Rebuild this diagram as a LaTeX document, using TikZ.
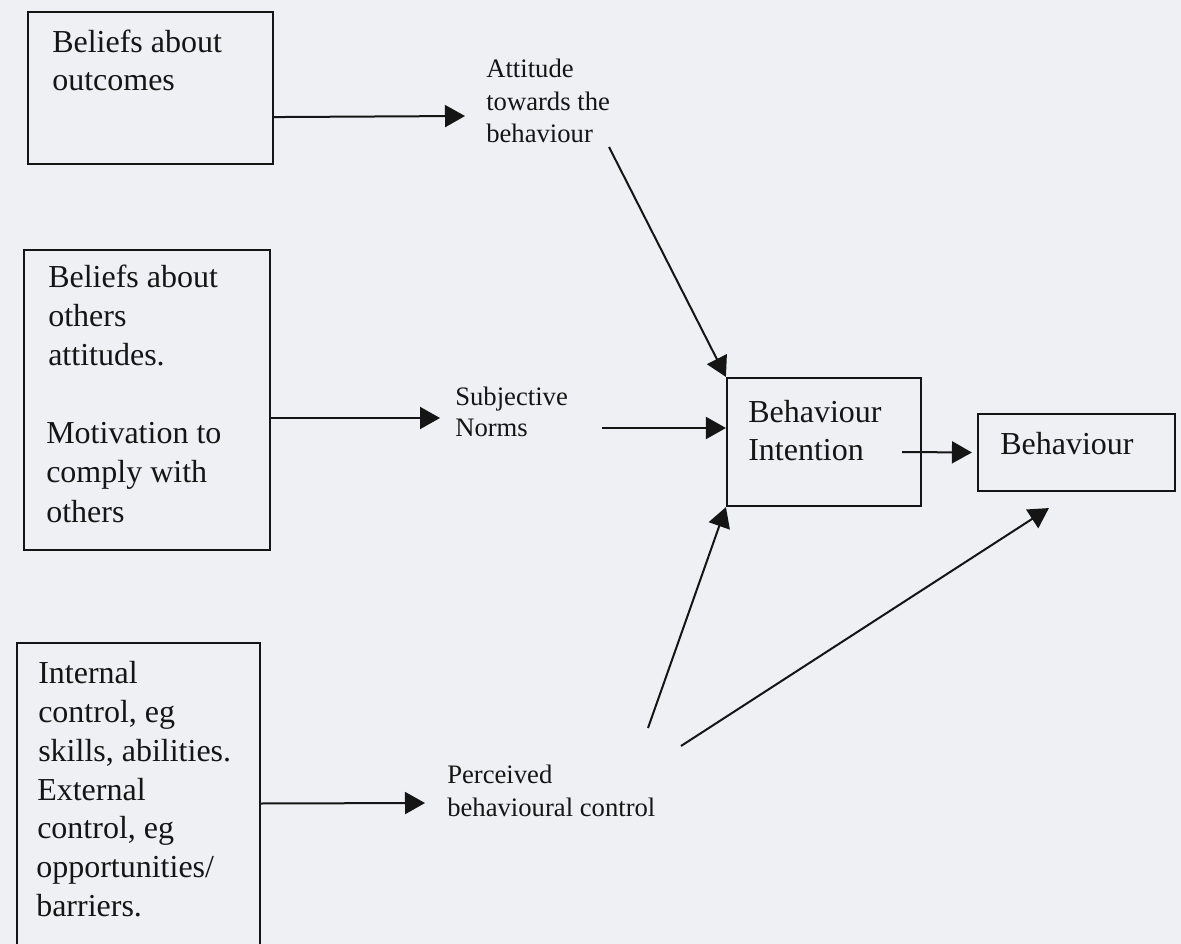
\documentclass[tikz,border=0pt]{standalone}
\usepackage{fontspec}
\setmainfont{Liberation Serif}
\usetikzlibrary{arrows.meta,fit,calc}
\definecolor{paper}{HTML}{EFF0F3}
\definecolor{ink}{HTML}{151515}

\begin{document}
\begin{tikzpicture}[x=0.75pt,y=-0.75pt,
  box/.style={draw=ink, line width=1.6pt, inner sep=0pt},
  big/.style={text=ink, font=\fontsize{24}{29}\selectfont, inner sep=0pt, anchor=base west},
  lab/.style={text=ink, font=\fontsize{20}{24}\selectfont, inner sep=0pt, anchor=base west},
  arr/.style={draw=ink, line width=1.5pt, -{Triangle[length=15pt,width=16.5pt]}}]

\fill[paper] (0,0) rectangle (1181,944);
\useasboundingbox (0,0) rectangle (1181,944);

% ---- left column: belief boxes ----
\node[box, fit={(28,12) (273,164)}] (b1) {};
\node[big] (b1a) at (52,53) {Beliefs about};
\node[big] (b1b) at (52,91) {outcomes};

\node[box, fit={(24,250) (270,550)}] (b2) {};
\node[big] (b2a) at (48,288) {Beliefs about};
\node[big] (b2b) at (48,327) {others};
\node[big] (b2c) at (48,366) {attitudes.};
\node[big] (b2d) at (46,444) {Motivation to};
\node[big] (b2e) at (46,483) {comply with};
\node[big] (b2f) at (46,522) {others};

\node[box, fit={(17,643) (260,952)}] (b3) {};
\node[big] (b3a) at (38,683) {Internal};
\node[big] (b3b) at (38,722) {control, eg};
\node[big] (b3c) at (38,761) {skills, abilities.};
\node[big] (b3d) at (37,800) {External};
\node[big] (b3e) at (37,838) {control, eg};
\node[big] (b3f) at (36,877) {opportunities/};
\node[big] (b3g) at (36,916) {barriers.};

% ---- middle column: constructs ----
\node[lab] (at1) at (486,78) {Attitude};
\node[lab] (at2) at (486,111) {towards the};
\node[lab] (at3) at (486,143) {behaviour};

\node[lab] (sn1) at (455,406) {Subjective};
\node[lab] (sn2) at (455,437) {Norms};

\node[lab] (pc1) at (447,783) {Perceived};
\node[lab] (pc2) at (447,816) {behavioural control};

% ---- right column: intention and behaviour ----
\node[box, fit={(727,378) (921,506)}] (bi) {};
\node[big] (bia) at (748,423) {Behaviour};
\node[big] (bib) at (748,460) {Intention};

\node[box, fit={(978,414) (1175,491)}] (bh) {};
\node[big] (bha) at (1000,455) {Behaviour};

% free ends of the diagonal connectors
\coordinate (c1) at (609,147);
\coordinate (c2) at (602,428);
\coordinate (c3) at (648,728);
\coordinate (c4) at (681,746);

% ---- connectors ----
\draw[arr] ($(b1.south east)+(0,-48)$) -- ($(at2.base west)+(-21,5)$);
\draw[arr] ($(b2.east)+(0,18)$) -- ($(sn1.base west)+(-15,12)$);
\draw[arr] ($(b3.east)+(0,6)$) -- ($(pc1.base west)+(-22,20)$);

\draw[arr] (c1) -- (bi.north west);
\draw[arr] (c2) -- (bi.west |- c2);
\draw[arr] (c3) -- (bi.south west);
\draw[arr] (c4) -- ($(bh.south west)+(72,16)$);
\draw[arr] ($(bi.east)+(-20,10)$) -- ($(bh.west)+(-5,0)$);
\end{tikzpicture}
\end{document}
